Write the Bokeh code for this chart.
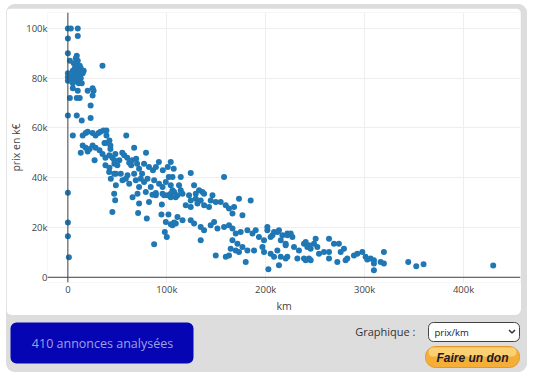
from bokeh.plotting import figure
from bokeh.layouts import column, row
from bokeh.models import (BoxAnnotation, Label, Span, FixedTicker, ColumnDataSource,
                          Range1d, Spacer)
from bokeh.embed import file_html
from bokeh.resources import INLINE

# ---------------- data (km in thousands, price in k€) ----------------
km_k = [
    0, 3, 10, 0, 10, 0, 9, 2, 0, 0, 0, 0, 0, 0, 0, 1,
    8, 10, 6, 9, 12, 7, 10, 13, 5, 8, 11, 14, 16, 6, 9, 12, 15, 4, 7, 10, 13, 6, 9, 3, 11, 14, 5,
    35, 5, 10, 20, 25, 26, 25, 2, 9, 12, 23, 9, 23, 14,
    5, 15, 18, 20, 25, 28, 31, 33, 36, 39, 39, 59,
    15, 18, 22, 25, 28, 32, 37, 38, 42, 43, 43,
    13, 20, 35, 38, 42, 45, 48, 47, 27, 55, 67, 79,
    38, 42, 47, 50, 52, 57, 60, 62, 64, 65, 69, 70, 72, 75, 77, 82, 86, 89, 92, 96, 101, 104, 107, 102,
    41.7, 46.8, 43.4, 48.5, 46.8, 55.2, 60.3, 62, 67, 68.7, 72, 73.7, 77, 80.5, 83.8, 87.2, 92.2, 95.7,
    99, 104, 105.8, 109, 97.3, 88.9, 78.8, 70.4, 65.4, 58.6, 53.5, 48.5,
    47.8, 45, 72, 71, 79.8, 82, 85.5, 88.9, 95.7, 100.7, 104, 95, 94.6, 101.7, 99, 104, 107.4, 98, 100, 87.2,
    124.2, 157.9, 105.8, 114.1, 112.4, 114.1, 107.4, 104, 110.8, 115.9, 127.6, 132.6, 136, 137.7, 129.3,
    122.5, 124.2, 129.3, 134.3, 119.2, 124.2, 131, 137.7, 142.7, 146.2, 144.4, 149.5, 154.5, 159.6, 162.9,
    168, 173, 184.8, 176.5, 166.4, 110.8, 115.9, 109.1, 105.8, 124.2, 127.6, 134.3, 137.7, 144.4, 147.8,
    151.2, 157.9, 162.9, 166.4, 169.7, 174.7, 181.5, 186.6, 189.9, 193.2, 198.3, 201.7, 206.8, 211.8,
    216.9, 221.9, 134.3, 166.4, 171.4, 176.5, 181.5, 173, 169.7, 164.6, 149.5, 159.6, 162.9, 179.8,
    188.2, 196.7, 198.3, 205, 208.4, 215.2, 211.8, 220.2, 213.4, 220.2, 215.2, 205, 201.7, 208.4, 213.4, 202.7,
    221.9, 225.3, 227, 220.2, 228.6, 233.6, 221.9, 232, 238.7, 240.4, 243.7, 245.5, 242.1, 250.5, 248.8,
    252.2, 238.7, 240.4, 243.7, 245.5, 253.9, 258.9, 264, 264, 264, 269, 274, 279.1, 275.8, 272.4, 280.8,
    282.5, 289.2, 292.6, 297.7, 301, 302.7, 306.1, 309.4, 309.4, 309.4, 316.2, 319.5, 319.5,
    344.1, 352.2, 359.6, 430,
]
prix_k = [
    100, 100, 100, 96, 97, 90, 89, 87, 82, 80.5, 79, 65, 34, 22, 16.5, 8,
    88, 87, 86, 85, 85, 84, 84, 84, 83, 83, 83, 83, 83, 82, 82, 82, 82, 81, 81, 81, 80, 80, 79, 79, 78, 78, 78,
    85, 76, 75, 75, 76, 75, 73, 72, 72, 72, 69, 65, 64, 63,
    57, 57, 58, 58.5, 58, 57, 58, 58.5, 59, 59, 57, 57,
    53, 52, 51.5, 53, 52, 51, 54, 54, 55, 53, 51.5,
    50, 50.5, 49.5, 48, 49, 48, 49.5, 47, 47, 50, 52, 50,
    45, 44, 45.6, 45, 47, 49, 48, 46, 45, 47, 47.6, 45.6, 43.6, 41.6, 45.6, 44.3, 43, 44.3, 46.3, 43, 44.3, 46.3, 43.6, 40.3,
    42.3, 41.6, 39.6, 37, 33.6, 39, 41, 37.6, 41.6, 39, 36.3, 39.6, 38.3, 39.6, 36.3, 39, 37.6, 36.3,
    38.3, 37, 35, 32.2, 33, 33, 34.3, 33.6, 32.2, 39.6, 41.6, 41.6,
    31, 26.2, 29.6, 25.8, 23.6, 30.2, 33.2, 33.9, 33.6, 33, 32.2, 29.2, 25.2, 25.2, 22.2, 21.3, 22, 18.2, 16.2, 13.3,
    41.9, 40.3, 40.3, 40.3, 37, 35, 34.3, 33.6, 33, 33.6, 37, 35, 34.3, 33.6, 33.6,
    33, 30.9, 31.6, 30.9, 28.9, 28.2, 29.6, 28.9, 28.2, 33, 30.9, 30.2, 30.2, 28.9, 27.6,
    28.2, 31.6, 30.9, 24.9, 25.6, 24.2, 22.9, 21.6, 20.9, 22.9, 21.6, 20.2, 18.9, 20.9, 22.2,
    19.6, 20.2, 20.9, 19.6, 17.6, 18.2, 18.9, 17.6, 18.9, 16.2, 14.9, 18.9, 16.9, 18.2,
    16.9, 17.6, 14.9, 14.9, 13.5, 12.2, 10.8, 10.2, 10.8, 11.5, 8.8, 8.2, 8.8, 6.1,
    10.8, 12.2, 10.2, 9.5, 8.2, 8.2, 10.8, 7.5, 4.8, 12.9, 14.9, 16.2, 20.2, 18.2, 18.9, 3.2,
    16.9, 17.6, 16.2, 13.5, 12.2, 10.8, 8.2, 7.5, 13.5, 14.2, 12.9, 11.5, 12.2, 15.5, 13.5,
    12.2, 7.5, 6.8, 7.5, 6.8, 9.5, 10.2, 10.2, 7.5, 15.5, 13.5, 13.5, 11.5, 10.2, 6.1, 6.8,
    7.5, 8.8, 9.5, 10.2, 8.2, 7.1, 7.5, 6.8, 5.5, 2.8, 6.1, 5.5, 10.2,
    6.1, 4.4, 5.2, 4.7,
]

x_ticks = [0, 100, 200, 300, 400]
x_tick_labels = ["0", "100k", "200k", "300k", "400k"]
y_ticks = [0, 20, 40, 60, 80, 100]
y_tick_labels = ["0", "20k", "40k", "60k", "80k", "100k"]
x_title = "km"
y_title = "prix en k€"
count_text = "410 annonces analysées"
select_caption = "Graphique :"
select_value = "prix/km"
donate_text = "Faire un don"

FONT = "Open Sans"
GRAY = "#dddddd"

src = ColumnDataSource(dict(km=km_k, prix=prix_k))

# ---------------- chart card (page x 6..521, y 8..315) ----------------
p = figure(width=515, height=307, output_backend="svg", toolbar_location=None,
           x_range=Range1d(-20.6, 457.6), y_range=Range1d(-2.1, 106.4),
           min_border_left=30, min_border_right=1, min_border_top=4, min_border_bottom=26,
           styles={"border-radius": "6px", "overflow": "hidden"})
p.outline_line_color = None
p.border_fill_color = "white"
p.background_fill_color = "white"

p.scatter(x="km", y="prix", source=src, size=6, fill_color="#1f77b4", line_color=None)

for ax in (p.xaxis[0], p.yaxis[0]):
    ax.axis_line_color = None
    ax.major_tick_line_color = None
    ax.minor_tick_line_color = None
    ax.major_tick_out = 0
    ax.major_tick_in = 0
    ax.minor_tick_out = 0
    ax.minor_tick_in = 0
    ax.major_label_text_font = FONT
    ax.major_label_text_font_size = "9.5px"
    ax.major_label_text_color = "#444444"
    ax.major_label_standoff = 0
    ax.axis_label_text_font = FONT
    ax.axis_label_text_font_size = "10.5px"
    ax.axis_label_text_font_style = "normal"
    ax.axis_label_text_color = "#444444"
    ax.axis_label_standoff = 0

p.xaxis[0].ticker = FixedTicker(ticks=x_ticks)
p.yaxis[0].ticker = FixedTicker(ticks=y_ticks)
p.xaxis[0].major_label_overrides = {t: s for t, s in zip(x_ticks, x_tick_labels)}
p.yaxis[0].major_label_overrides = {t: s for t, s in zip(y_ticks, y_tick_labels)}
p.xaxis[0].axis_label = x_title
p.yaxis[0].axis_label = y_title

p.xgrid[0].ticker = FixedTicker(ticks=x_ticks)
p.ygrid[0].ticker = FixedTicker(ticks=y_ticks)
p.xgrid[0].grid_line_color = "#eeeeee"
p.ygrid[0].grid_line_color = "#eeeeee"

p.add_layout(Span(location=0, dimension="height", line_color="#444444", line_width=1))
p.add_layout(Span(location=0, dimension="width", line_color="#444444", line_width=1))

# ---------------- bottom control panel (page px: x 6..527, y 315..372) ----------------
b = figure(width=521, height=57, output_backend="svg", toolbar_location=None,
           x_range=Range1d(6, 527), y_range=Range1d(-372, -315),
           x_axis_type=None, y_axis_type=None,
           min_border_left=0, min_border_right=0, min_border_top=0, min_border_bottom=0)
b.outline_line_color = None
b.border_fill_color = GRAY
b.background_fill_color = GRAY
b.xgrid.visible = False
b.ygrid.visible = False


def pbox(l, r, t, bt, fill, line=None, radius=0):
    b.add_layout(BoxAnnotation(left=l, right=r, top=-t, bottom=-bt,
                               fill_color=fill, fill_alpha=1.0,
                               line_color=line, line_width=1, line_alpha=1.0,
                               border_radius=radius, level="underlay"))


def plabel(x, y, text, **kw):
    b.add_layout(Label(x=x, y=-y, text=text, text_baseline="middle", **kw))


pbox(10, 193, 322, 363, "#0505b4", radius=6)
pbox(428, 519, 322, 341, "white", line="#444444", radius=5)
pbox(425, 519, 346, 367, "#f5ae38", line="#e0982a", radius=10)
pbox(428, 516, 347, 356, "#fbd072", radius=8)

b.line(x=[508.5, 511.5, 514.5], y=[-329.5, -332.5, -329.5], line_color="#333333", line_width=1.5)

plabel(102, 342.5, count_text, text_align="center", text_font=FONT,
       text_font_size="12.5px", text_color="#9da1e4")
plabel(415, 331, select_caption, text_align="right", text_font=FONT,
       text_font_size="11px", text_color="#333333")
plabel(434, 331.5, select_value, text_align="left", text_font=FONT,
       text_font_size="9.5px", text_color="#222222")
plabel(472, 357, donate_text, text_align="center", text_font="Liberation Sans",
       text_font_size="12px", text_font_style="bold italic", text_color="#1a1a2a")

# ---------------- page assembly ----------------
gray_top = Spacer(width=521, height=4, styles={"background-color": GRAY})
gray_r = Spacer(width=6, height=307, styles={"background-color": GRAY})
panel = column(gray_top, row(p, gray_r), b,
               styles={"border-radius": "9px", "overflow": "hidden",
                       "background-color": GRAY})
root = column(Spacer(width=533, height=4),
              row(Spacer(width=6, height=368), panel, Spacer(width=6, height=368)),
              Spacer(width=533, height=4))

open("out.html", "w").write(file_html(root, INLINE))
